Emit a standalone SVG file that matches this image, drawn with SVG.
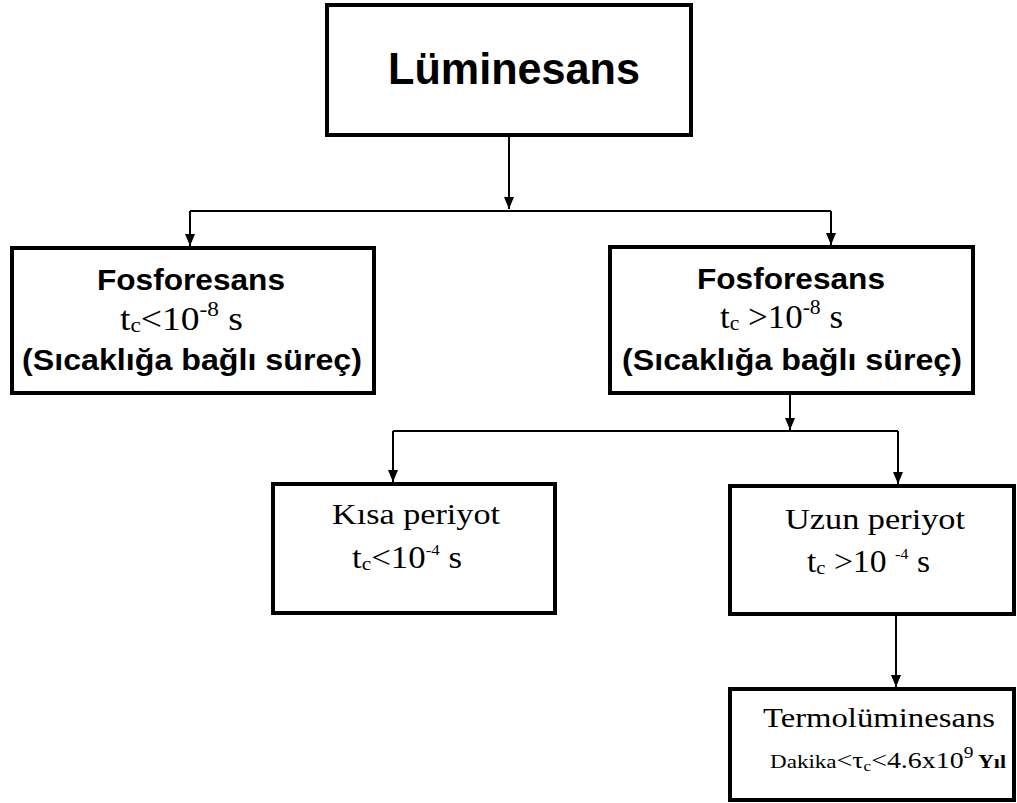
<svg xmlns="http://www.w3.org/2000/svg" width="1017" height="803" viewBox="0 0 1017 803">
<style>
.box{fill:#fff;stroke:#000;stroke-width:4}
.con{fill:none;stroke:#000;stroke-width:2}
.sans{font-family:"Liberation Sans",Arial,sans-serif;font-weight:bold;fill:#000}
.serif{font-family:"Liberation Serif","Times New Roman",serif;fill:#000}
</style>
<defs>
<marker id="ah" markerUnits="userSpaceOnUse" markerWidth="12" markerHeight="12" refX="12" refY="6" orient="auto" viewBox="0 0 12 12">
<path d="M0,1 L12,6 L0,11 Z"/>
</marker>
</defs>
<rect width="1017" height="803" fill="#fff"/>
<g id="connectors">
<path class="con" d="M509,135 V209" marker-end="url(#ah)"/>
<path class="con" d="M190,211 H831"/>
<path class="con" d="M190,211 V246" marker-end="url(#ah)"/>
<path class="con" d="M831,211 V245" marker-end="url(#ah)"/>
<path class="con" d="M790,393 V430" marker-end="url(#ah)"/>
<path class="con" d="M393,431 H898"/>
<path class="con" d="M393,431 V482" marker-end="url(#ah)"/>
<path class="con" d="M898,431 V484" marker-end="url(#ah)"/>
<path class="con" d="M896,614 V687" marker-end="url(#ah)"/>
</g>
<g id="luminesans">
<rect class="box" x="327" y="5" width="364" height="130"/>
<text class="sans" x="388" y="84" font-size="44" textLength="252" lengthAdjust="spacingAndGlyphs">Lüminesans</text>
</g>
<g id="fosfor-left">
<rect class="box" x="12" y="248" width="362" height="145"/>
<text class="sans" x="97" y="290" font-size="29" textLength="188" lengthAdjust="spacingAndGlyphs">Fosforesans</text>
<text class="serif" x="120" y="330" font-size="34" textLength="123" lengthAdjust="spacingAndGlyphs">t<tspan font-size="21" dy="2">c</tspan><tspan dy="-2">&lt;10</tspan><tspan font-size="21" dy="-14">-8</tspan><tspan dy="14"> s</tspan></text>
<text class="sans" x="22" y="370" font-size="29" textLength="340" lengthAdjust="spacingAndGlyphs">(Sıcaklığa bağlı süreç)</text>
</g>
<g id="fosfor-right">
<rect class="box" x="610" y="247" width="363" height="146"/>
<text class="sans" x="697" y="289" font-size="29" textLength="188" lengthAdjust="spacingAndGlyphs">Fosforesans</text>
<text class="serif" x="720" y="328" font-size="34" textLength="123" lengthAdjust="spacingAndGlyphs">t<tspan font-size="21" dy="2">c</tspan><tspan dy="-2"> &gt;10</tspan><tspan font-size="21" dy="-14">-8</tspan><tspan dy="14"> s</tspan></text>
<text class="sans" x="622" y="370" font-size="29" textLength="340" lengthAdjust="spacingAndGlyphs">(Sıcaklığa bağlı süreç)</text>
</g>
<g id="kisa">
<rect class="box" x="273" y="484" width="282" height="129"/>
<text class="serif" x="332" y="524" font-size="29" textLength="168" lengthAdjust="spacingAndGlyphs">Kısa periyot</text>
<text class="serif" x="352" y="568" font-size="31" textLength="110" lengthAdjust="spacingAndGlyphs">t<tspan font-size="19" dy="2">c</tspan><tspan dy="-2">&lt;10</tspan><tspan font-size="15" dy="-13">-4</tspan><tspan dy="13"> s</tspan></text>
</g>
<g id="uzun">
<rect class="box" x="730" y="486" width="284" height="128"/>
<text class="serif" x="785" y="529" font-size="29" textLength="180" lengthAdjust="spacingAndGlyphs">Uzun periyot</text>
<text class="serif" x="807" y="572" font-size="31" textLength="123" lengthAdjust="spacingAndGlyphs">t<tspan font-size="19" dy="2">c</tspan><tspan dy="-2"> &gt;10 </tspan><tspan font-size="15" dy="-13">-4</tspan><tspan dy="13"> s</tspan></text>
</g>
<g id="termo">
<rect class="box" x="730" y="689" width="284" height="111"/>
<text class="serif" x="763" y="727" font-size="27" textLength="232" lengthAdjust="spacingAndGlyphs">Termolüminesans</text>
<text class="serif" x="770" y="768" font-size="23" textLength="236" lengthAdjust="spacingAndGlyphs"><tspan font-size="19">Dakika</tspan>&lt;τ<tspan font-size="14" dy="3">c</tspan><tspan dy="-3">&lt;4.6x10</tspan><tspan font-size="16" dy="-10">9</tspan><tspan dy="10" font-size="18" font-weight="bold"> Yıl</tspan></text>
</g>
</svg>
